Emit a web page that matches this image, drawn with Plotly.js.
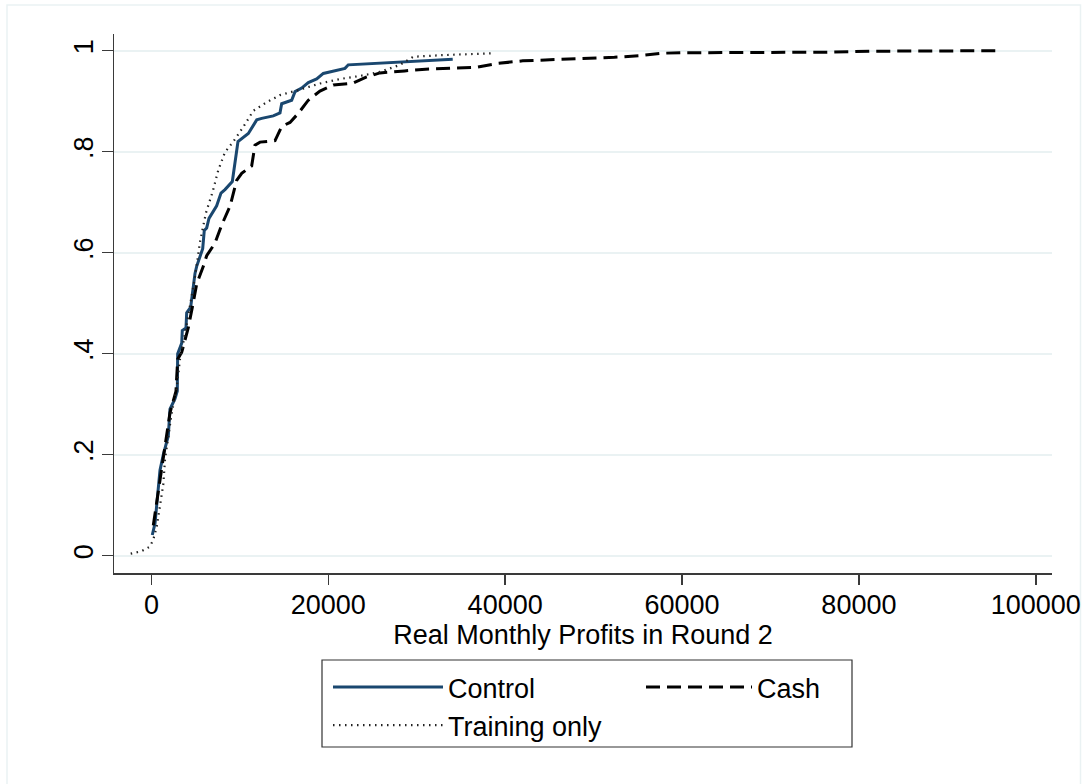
<!DOCTYPE html>
<html>
<head>
<meta charset="utf-8">
<script src="https://cdn.plot.ly/plotly-3.0.1.min.js"></script>
<style>html,body{margin:0;padding:0;background:#fff;}#chart{width:1084px;height:784px;}</style>
</head>
<body>
<div id="chart"></div>
<script>
// ---- data ----
const seriesNames = ["Control", "Cash", "Training only"];

const controlX = [100, 410, 600, 970, 1350, 1910, 2100, 2670, 2930, 2970, 3430, 3490, 3910, 3990, 4440, 4930, 5120, 5570, 5800, 5980, 6250, 6510, 7380, 7870, 8320, 9150, 9790, 10960, 11910, 12470, 13780, 14540, 14730, 15860, 16240, 16990, 17740, 18690, 19440, 21890, 22260, 34070];
const controlY = [0.041, 0.064, 0.100, 0.169, 0.200, 0.237, 0.290, 0.311, 0.326, 0.400, 0.421, 0.446, 0.451, 0.481, 0.492, 0.559, 0.573, 0.598, 0.608, 0.644, 0.649, 0.668, 0.693, 0.718, 0.725, 0.741, 0.820, 0.836, 0.863, 0.866, 0.871, 0.877, 0.895, 0.902, 0.919, 0.926, 0.937, 0.944, 0.955, 0.965, 0.972, 0.983];

const cashX = [215, 600, 1540, 2100, 2780, 2970, 3430, 4180, 4740, 5120, 5870, 6250, 7190, 7950, 8890, 9640, 10210, 11340, 11710, 12280, 13980, 14730, 15670, 16610, 17740, 19060, 20570, 22830, 24340, 25840, 28630, 31390, 36700, 39220, 42000, 47050, 52350, 55120, 57650, 60180, 76320, 81370, 96010];
const cashY = [0.060, 0.106, 0.219, 0.283, 0.326, 0.389, 0.403, 0.452, 0.502, 0.538, 0.573, 0.594, 0.619, 0.655, 0.692, 0.743, 0.757, 0.772, 0.813, 0.819, 0.822, 0.850, 0.858, 0.876, 0.902, 0.920, 0.932, 0.936, 0.948, 0.956, 0.960, 0.964, 0.967, 0.975, 0.980, 0.983, 0.987, 0.990, 0.995, 0.996, 0.997, 0.999, 1.000];

const trainX = [-2340, -1100, -160, 215, 600, 970, 1350, 1540, 1910, 2300, 2860, 3230, 3800, 4360, 4930, 5500, 6170, 6930, 7570, 8320, 9260, 10390, 11520, 13040, 14540, 16800, 19060, 21330, 23590, 25850, 28110, 29610, 32630, 38590];
const trainY = [0.004, 0.009, 0.018, 0.032, 0.057, 0.099, 0.142, 0.191, 0.233, 0.283, 0.332, 0.389, 0.439, 0.495, 0.552, 0.622, 0.679, 0.721, 0.764, 0.799, 0.820, 0.849, 0.881, 0.898, 0.912, 0.923, 0.935, 0.944, 0.950, 0.958, 0.972, 0.988, 0.991, 0.995];

const xTickVals = [0, 20000, 40000, 60000, 80000, 100000];
const xTickText = ["0", "20000", "40000", "60000", "80000", "100000"];
const yTickVals = [0, 0.2, 0.4, 0.6, 0.8, 1];
const yTickText = ["0", ".2", ".4", ".6", ".8", "1"];
const xTitle = "Real Monthly Profits in Round 2";

// ---- styling ----
const FONT = "Liberation Sans, Arial, Helvetica, sans-serif";
const FS = 27;
const AXC = "#3a3a3a";
const GRID = "#eaf2f3";

const traces = [
  {x: controlX, y: controlY, name: seriesNames[0], type: "scatter", mode: "lines",
   line: {color: "#1a476f", width: 3}, legend: "legend"},
  {x: cashX, y: cashY, name: seriesNames[1], type: "scatter", mode: "lines",
   line: {color: "#000000", width: 3, dash: "14px,7px"}, legend: "legend2"},
  {x: trainX, y: trainY, name: seriesNames[2], type: "scatter", mode: "lines",
   line: {color: "#222222", width: 2.2, dash: "1.5px,4.5px"}, legend: "legend"}
];

const W = 1084, H = 784;
const M = {l: 114, r: 32, t: 34, b: 211};
const PW = W - M.l - M.r, PH = H - M.t - M.b;
const px2x = p => (p - M.l) / PW;
const py2y = p => (H - M.b - p) / PH;

const legendCommon = {
  orientation: "v", bgcolor: "rgba(0,0,0,0)", borderwidth: 0,
  font: {family: FONT, size: FS, color: "#000"}, itemwidth: 110,
  xanchor: "left", yanchor: "top", traceorder: "normal", itemclick: false, itemdoubleclick: false
};

const layout = {
  width: W, height: H,
  margin: M,
  paper_bgcolor: "#ffffff", plot_bgcolor: "#ffffff",
  font: {family: FONT, size: FS, color: "#000"},
  showlegend: true,
  hovermode: false,
  xaxis: {
    range: [-4229, 101832], tickvals: xTickVals, ticktext: xTickText,
    ticks: "outside", ticklen: 10, tickwidth: 1.5, tickcolor: AXC,
    showline: true, linecolor: AXC, linewidth: 1.5,
    showgrid: false, zeroline: false,
    tickfont: {family: FONT, size: FS, color: "#000"},
    ticklabelstandoff: -3,
    title: {text: xTitle, font: {family: FONT, size: FS, color: "#000"}, standoff: 0}
  },
  yaxis: {
    range: [-0.0343, 1.0331], tickvals: yTickVals, ticktext: yTickText,
    tickangle: -90,
    ticks: "outside", ticklen: 11, tickwidth: 1.5, tickcolor: AXC,
    showline: true, linecolor: AXC, linewidth: 1.5,
    showgrid: true, gridcolor: GRID, gridwidth: 2, zeroline: false,
    tickfont: {family: FONT, size: FS, color: "#000"},
    ticklabelstandoff: -2
  },
  legend: Object.assign({}, legendCommon, {x: px2x(328), y: py2y(663)}),
  legend2: Object.assign({}, legendCommon, {x: px2x(641), y: py2y(663), itemwidth: 106}),
  shapes: [
    {type: "rect", xref: "paper", yref: "paper", x0: px2x(7), x1: px2x(1080.5), y0: py2y(790), y1: py2y(5),
     line: {color: GRID, width: 1.5}, fillcolor: "rgba(0,0,0,0)", layer: "below"},
    {type: "rect", xref: "paper", yref: "paper", x0: px2x(322), x1: px2x(852), y0: py2y(747), y1: py2y(660),
     line: {color: "#333333", width: 1.2}, fillcolor: "rgba(0,0,0,0)", layer: "above"}
  ]
};

Plotly.newPlot("chart", traces, layout, {displayModeBar: false, staticPlot: true});
</script>
</body>
</html>
